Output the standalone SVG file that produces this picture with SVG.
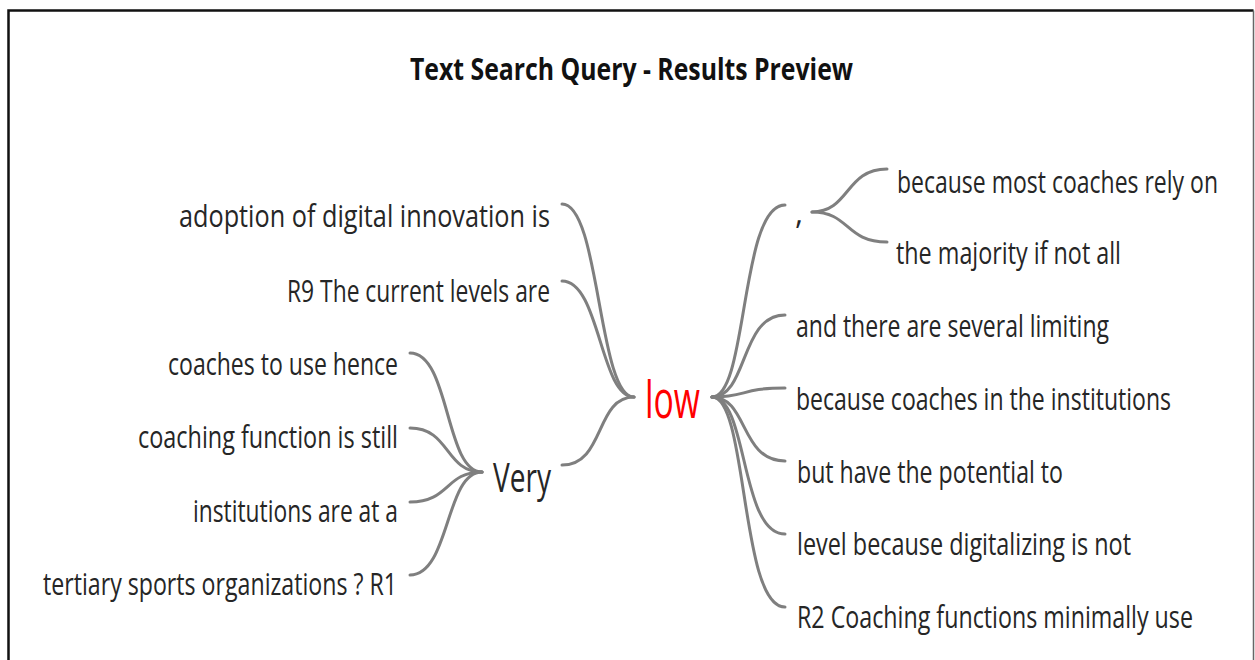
<svg xmlns="http://www.w3.org/2000/svg" width="1255" height="660" viewBox="0 0 1255 660">
<style>
.t{font-family:"Open Sans","Liberation Sans",sans-serif;font-size:31px;fill:#262626}
.title{font-family:"Open Sans","Liberation Sans",sans-serif;font-size:31px;font-weight:bold;fill:#111}
.c{fill:none;stroke:#7f7f7f;stroke-width:3;stroke-linecap:round}
</style>
<rect width="1255" height="660" fill="#fff"/>
<path d="M8.5,670 V10.5 H1253.5" fill="none" stroke="#111" stroke-width="2.5"/>
<path d="M1253.5,10.5 V670" fill="none" stroke="#666" stroke-width="1.5"/>
<text class="title" x="410" y="80" textLength="443" lengthAdjust="spacingAndGlyphs">Text Search Query - Results Preview</text>
<g id="connectors">
<path class="c" d="M562,204 C600,204 598,397 634,397"/>
<path class="c" d="M562,281 C600,281 600,397 634,397"/>
<path class="c" d="M562,465 C605,465 595,397 634,397"/>
<path class="c" d="M410,353 C450,353 445,472 482,472"/>
<path class="c" d="M410,428 C450,428 445,472 482,472"/>
<path class="c" d="M410,502 C450,502 445,472 482,472"/>
<path class="c" d="M410,575 C450,575 445,472 482,472"/>
<path class="c" d="M712,397 C748,397 740,205 785,205"/>
<path class="c" d="M712,397 C748,397 740,315 785,315"/>
<path class="c" d="M712,397 C748,397 740,388 785,388"/>
<path class="c" d="M712,397 C748,397 740,461 785,461"/>
<path class="c" d="M712,397 C748,397 740,534 785,534"/>
<path class="c" d="M712,397 C748,397 740,607 785,607"/>
<path class="c" d="M812,212 C850,212 845,169 887,169"/>
<path class="c" d="M812,212 C850,212 845,242 887,242"/>
</g>
<g id="node-low"><text x="645" y="418" font-family="'Open Sans','Liberation Sans',sans-serif" font-size="51" fill="#ff0000" textLength="55" lengthAdjust="spacingAndGlyphs">low</text></g>
<g id="node-adoption"><text class="t" x="179" y="227" textLength="371" lengthAdjust="spacingAndGlyphs">adoption of digital innovation is</text></g>
<g id="node-r9"><text class="t" x="287" y="302" textLength="263" lengthAdjust="spacingAndGlyphs">R9 The current levels are</text></g>
<g id="node-very"><text x="493" y="492" font-family="'Open Sans','Liberation Sans',sans-serif" font-size="41" fill="#262626" textLength="58" lengthAdjust="spacingAndGlyphs">Very</text></g>
<g id="node-coaches"><text class="t" x="168" y="375" textLength="230" lengthAdjust="spacingAndGlyphs">coaches to use hence</text></g>
<g id="node-coaching"><text class="t" x="138" y="448" textLength="260" lengthAdjust="spacingAndGlyphs">coaching function is still</text></g>
<g id="node-institutions"><text class="t" x="193" y="522" textLength="205" lengthAdjust="spacingAndGlyphs">institutions are at a</text></g>
<g id="node-tertiary"><text class="t" x="43" y="595" textLength="354" lengthAdjust="spacingAndGlyphs">tertiary sports organizations ? R1</text></g>
<g id="node-comma"><text class="t" x="795" y="224">,</text></g>
<g id="node-because-most"><text class="t" x="897" y="193" textLength="321" lengthAdjust="spacingAndGlyphs">because most coaches rely on</text></g>
<g id="node-majority"><text class="t" x="896" y="264" textLength="225" lengthAdjust="spacingAndGlyphs">the majority if not all</text></g>
<g id="node-and"><text class="t" x="796" y="337" textLength="313" lengthAdjust="spacingAndGlyphs">and there are several limiting</text></g>
<g id="node-because-coaches"><text class="t" x="796" y="410" textLength="375" lengthAdjust="spacingAndGlyphs">because coaches in the institutions</text></g>
<g id="node-but"><text class="t" x="797" y="483" textLength="266" lengthAdjust="spacingAndGlyphs">but have the potential to</text></g>
<g id="node-level"><text class="t" x="797" y="555" textLength="334" lengthAdjust="spacingAndGlyphs">level because digitalizing is not</text></g>
<g id="node-r2"><text class="t" x="797" y="628" textLength="396" lengthAdjust="spacingAndGlyphs">R2 Coaching functions minimally use</text></g>
</svg>
